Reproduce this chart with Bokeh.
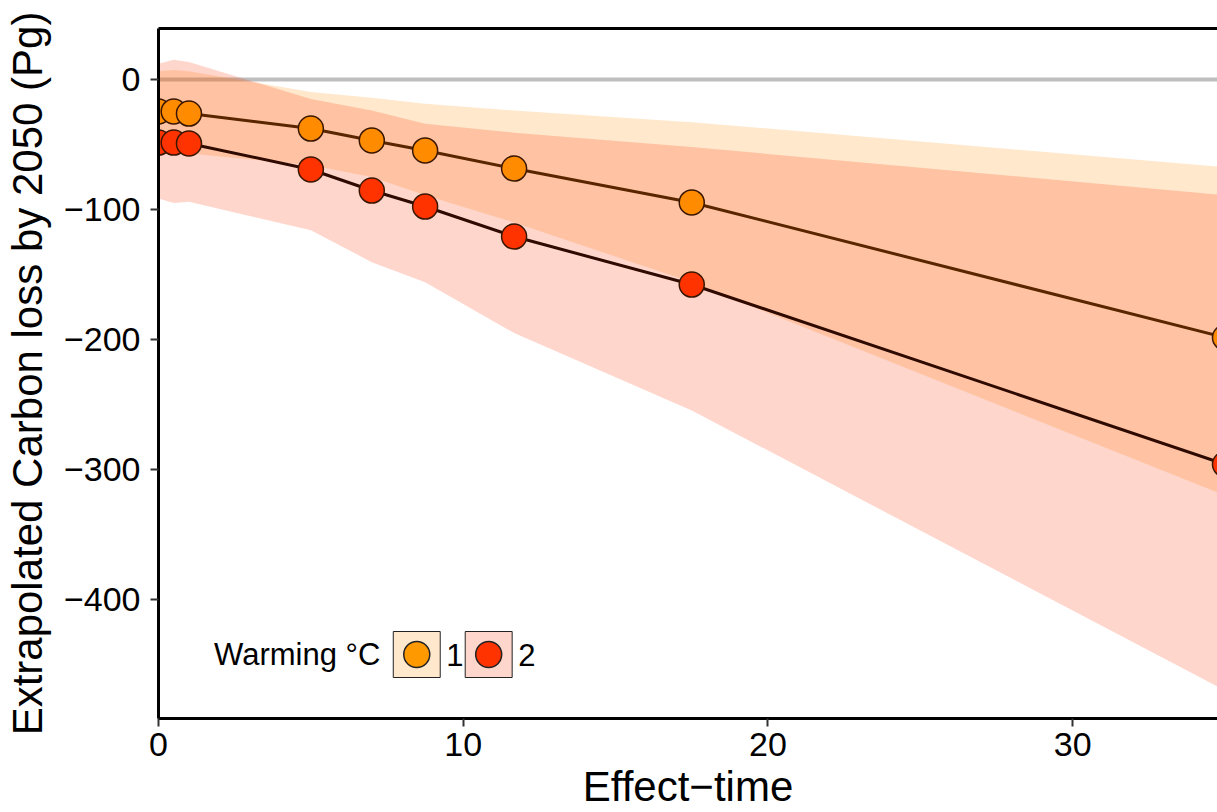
from bokeh.plotting import figure
from bokeh.models import Span, Label, FixedTicker, LinearAxis, Range1d
from bokeh.embed import file_html
from bokeh.resources import INLINE

# ---------------- data ----------------
effect_time = [0, 0.5, 1, 5, 7, 8.75, 11.67, 17.5, 35]

loss_1C = [-24.6, -24.6, -26.2, -37.7, -46.9, -54.6, -68.5, -94.6, -198.5]
loss_1C_upper = [6.4, 7.4, 6.4, -9.7, -14.0, -18.7, -23.8, -32.8, -67.5]
loss_1C_lower = [-55.0, -56.0, -57.0, -66.0, -75.0, -89.0, -110.0, -156.0, -320.0]

loss_2C = [-48.5, -48.5, -49.2, -69.2, -85.4, -97.7, -120.8, -157.7, -296.0]
loss_2C_upper = [12.1, 15.1, 13.4, -15.0, -23.8, -34.0, -40.9, -52.0, -89.0]
loss_2C_lower = [-91.5, -95.0, -94.0, -116.0, -140.5, -156.0, -195.0, -254.6, -470.0]

warming_levels = ["1", "2"]
x_ticks = [0, 10, 20, 30]
y_ticks = [-400, -300, -200, -100, 0]
y_tick_labels = ["\u2212400", "\u2212300", "\u2212200", "\u2212100", "0"]

# ---------------- style ----------------
FONT = "Liberation Sans"
C1 = "#FF8C00"
C2 = "#FF3300"
C1_LEG = "#FF9900"
LINE1 = "#5a2600"
LINE2 = "#2e0a00"
EDGE = "#3a1600"

W, H = 1217, 812
BL, BT, BR, BB = 157, 28, 0, 94
FW = W - BL - BR
FH = H - BT - BB
X0, X1 = 0.0, FW / 30.5
Y1, Y0 = 51 / 1.3, -(FH - 51) / 1.3

p = figure(width=W, height=H, output_backend="svg", toolbar_location=None,
           x_range=Range1d(X0, X1), y_range=Range1d(Y0, Y1),
           min_border_left=BL, min_border_top=BT, min_border_right=BR,
           min_border_bottom=BB, outline_line_color=None,
           background_fill_color="white", border_fill_color="white")
p.xgrid.visible = False
p.ygrid.visible = False


def fx(px):
    return X0 + px / FW * (X1 - X0)


def fy(py):
    return Y1 - py / FH * (Y1 - Y0)


# zero line
p.add_layout(Span(location=0, dimension="width", line_color="#BEBEBE",
                  line_width=4, level="underlay"))

# uncertainty bands
p.varea(x=effect_time, y1=loss_1C_lower, y2=loss_1C_upper,
        fill_color=C1, fill_alpha=0.2)
p.varea(x=effect_time, y1=loss_2C_lower, y2=loss_2C_upper,
        fill_color=C2, fill_alpha=0.2)

# lines and points
p.line(effect_time, loss_1C, line_color=LINE1, line_width=3)
p.scatter(effect_time, loss_1C, size=25, fill_color=C1, line_color=EDGE,
          line_width=1.5)
p.line(effect_time, loss_2C, line_color=LINE2, line_width=3)
p.scatter(effect_time, loss_2C, size=25, fill_color=C2, line_color=EDGE,
          line_width=1.5)

# axes
for ax in (p.xaxis[0], p.yaxis[0]):
    ax.axis_line_width = 3
    ax.axis_line_color = "black"
    ax.major_tick_line_color = "#333333"
    ax.major_tick_line_width = 2
    ax.major_tick_out = 8
    ax.major_tick_in = 0
    ax.minor_tick_line_color = None
    ax.major_label_text_font = FONT
    ax.major_label_text_font_size = "34px"
    ax.major_label_text_color = "black"
    ax.axis_label_text_font = FONT
    ax.axis_label_text_font_size = "42px"
    ax.axis_label_text_font_style = "normal"
    ax.axis_label_text_color = "black"

p.xaxis[0].ticker = FixedTicker(ticks=x_ticks)
p.xaxis[0].major_label_standoff = 6
p.xaxis[0].axis_label = "Effect\u2212time"
p.xaxis[0].axis_label_standoff = 4
p.yaxis[0].ticker = FixedTicker(ticks=y_ticks)
p.yaxis[0].major_label_overrides = {t: l for t, l in zip(y_ticks, y_tick_labels)}
p.yaxis[0].major_label_standoff = 10
p.yaxis[0].axis_label = "Extrapolated Carbon loss by 2050 (Pg)"
p.yaxis[0].axis_label_standoff = 10

top_axis = LinearAxis(ticker=FixedTicker(ticks=[]), axis_line_width=3,
                      axis_line_color="black", major_tick_out=0,
                      major_tick_in=0, minor_tick_out=0, minor_tick_in=0,
                      major_label_text_font_size="0px")
p.add_layout(top_axis, "above")

# legend (built from layout positions inside the frame)
leg_cy = 626
boxes = [(235, 282), (307, 354)]
fills = ["#FFE8CC", "#FFD6CC"]
dots = [C1_LEG, C2]
p.quad(left=[fx(b[0]) for b in boxes], right=[fx(b[1]) for b in boxes],
       top=[fy(603)] * 2, bottom=[fy(649)] * 2,
       fill_color=fills, line_color="#222222", line_width=1)
p.scatter([fx((b[0] + b[1]) / 2) for b in boxes], [fy(leg_cy)] * 2,
          size=26, fill_color=dots, line_color="#222222", line_width=1.5)
p.add_layout(Label(x=fx(222), y=fy(leg_cy), text="Warming \u00b0C",
                   text_align="right", text_baseline="middle",
                   text_font=FONT, text_font_size="31px",
                   text_color="black"))
for b, lvl in zip(boxes, warming_levels):
    p.add_layout(Label(x=fx(b[1] + 6), y=fy(leg_cy), text=lvl,
                       text_align="left", text_baseline="middle",
                       text_font=FONT, text_font_size="31px",
                       text_color="black"))

open("out.html", "w").write(file_html(p, INLINE))
